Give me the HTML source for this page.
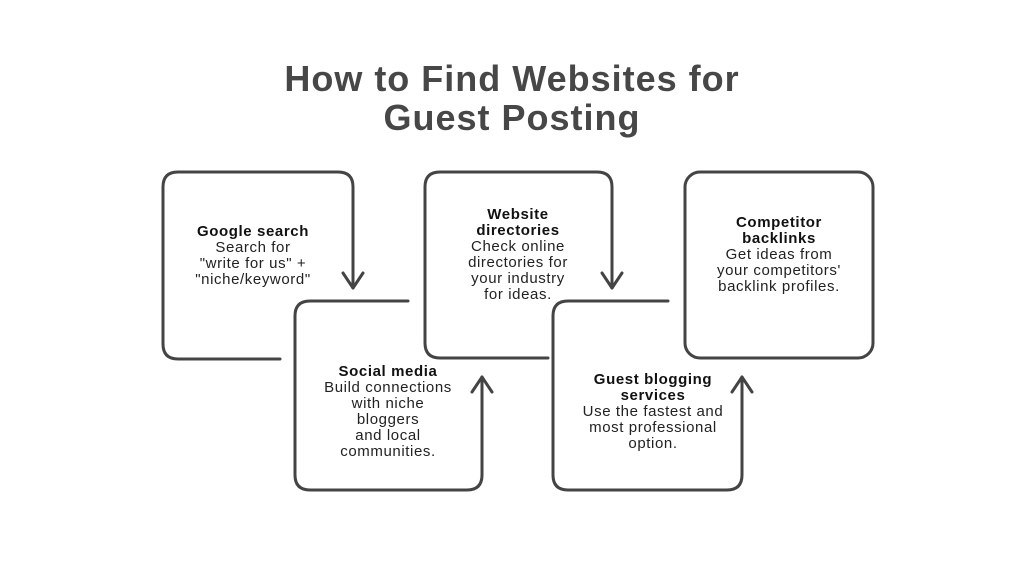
<!DOCTYPE html>
<html><head><meta charset="utf-8"><style>
body{margin:0;width:1024px;height:576px;background:#fff;overflow:hidden;font-family:"Liberation Sans",sans-serif;}
svg{position:absolute;left:0;top:0}
.t{position:absolute;width:1024px;text-align:center;font-weight:bold;font-size:36px;letter-spacing:1px;color:#474747;line-height:39px;top:59px;left:0}
.b{position:absolute;text-align:center;font-size:15px;letter-spacing:0.6px;line-height:16px;color:#222;width:190px}
.b b{color:#111}
</style></head><body>
<div class="t">How to Find Websites for<br>Guest Posting</div>
<svg width="1024" height="576" fill="none" stroke="#444" stroke-width="3" stroke-linecap="round" stroke-linejoin="round">
<path d="M280 359 L178 359 Q163 359 163 344 L163 187 Q163 172 178 172 L338 172 Q353 172 353 187 L353 288"/>
<path d="M343 273 L353 288 L363 273"/>
<path d="M408 301 L310 301 Q295 301 295 316 L295 475 Q295 490 310 490 L467 490 Q482 490 482 475 L482 377"/>
<path d="M472 392 L482 377 L492 392"/>
<path d="M548 358 L440 358 Q425 358 425 343 L425 187 Q425 172 440 172 L597 172 Q612 172 612 187 L612 288"/>
<path d="M602 273 L612 288 L622 273"/>
<path d="M668 301 L568 301 Q553 301 553 316 L553 475 Q553 490 568 490 L727 490 Q742 490 742 475 L742 377"/>
<path d="M732 392 L742 377 L752 392"/>
<rect x="685" y="172" width="188" height="186" rx="15"/>
</svg>
<div class="b" style="left:158px;top:224px"><b>Google search</b><br>Search for<br>"write for us" +<br>"niche/keyword"</div>
<div class="b" style="left:293px;top:364px"><b>Social media</b><br>Build connections<br>with niche<br>bloggers<br>and local<br>communities.</div>
<div class="b" style="left:423px;top:207px"><b>Website<br>directories</b><br>Check online<br>directories for<br>your industry<br>for ideas.</div>
<div class="b" style="left:558px;top:372px"><b>Guest blogging<br>services</b><br>Use the fastest and<br>most professional<br>option.</div>
<div class="b" style="left:684px;top:215px"><b>Competitor<br>backlinks</b><br>Get ideas from<br>your competitors'<br>backlink profiles.</div>
</body></html>
